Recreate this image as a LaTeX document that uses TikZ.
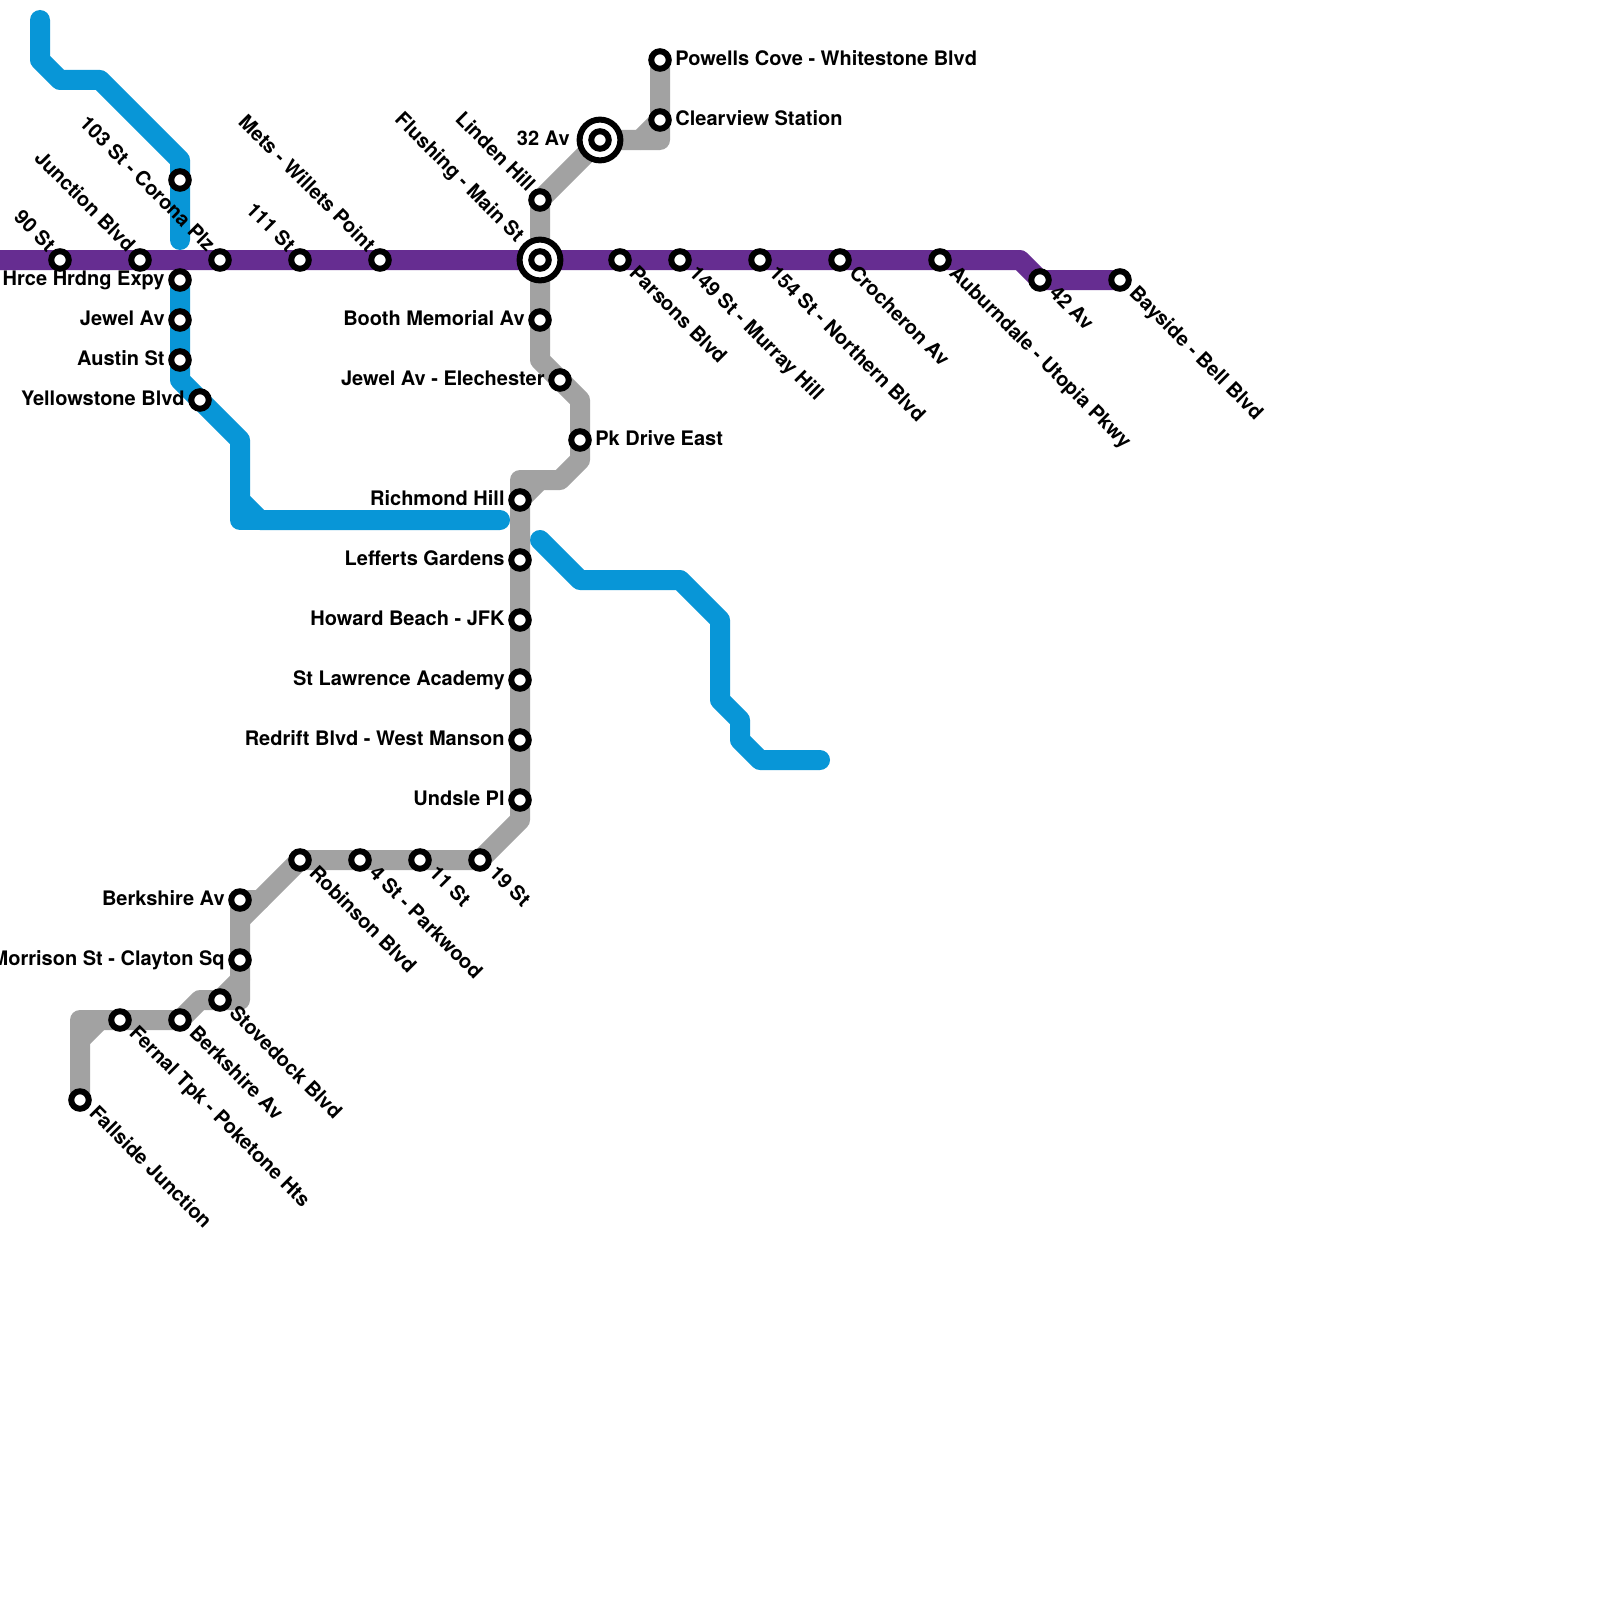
\documentclass[tikz,border=0pt]{standalone}
\usepackage{fontspec}
\setmainfont{TeX Gyre Heros}
\definecolor{lineblue}{HTML}{0896D7}
\definecolor{linepurple}{HTML}{662D91}
\definecolor{linegray}{HTML}{A2A2A2}
\tikzset{
  route/.style={line width=10pt,line cap=round,line join=round},
  stn/.style={circle,draw=black,fill=white,line width=3pt,minimum size=8.75pt,inner sep=0pt,outer sep=0pt},
  hubouter/.style={circle,draw=black,fill=white,line width=3pt,minimum size=20.4pt,inner sep=0pt,outer sep=0pt},
  txt/.style={font=\bfseries\fontsize{10pt}{12pt}\selectfont,inner sep=0pt,text=black},
  labl/.style={txt,anchor=base east},
  labr/.style={txt,anchor=base west},
  labul/.style={txt,anchor=base east,rotate=-45},
  labdr/.style={txt,anchor=base west,rotate=-45},
}
\begin{document}
\begin{tikzpicture}[x=0.5pt,y=-0.5pt]
\useasboundingbox (0,0) rectangle (1600,1600);
\fill[white] (0,0) rectangle (1600,1600);
\clip (0,0) rectangle (1600,1600);
% station positions
\coordinate (s90) at (60,260);
\coordinate (sjun) at (140,260);
\coordinate (s103) at (220,260);
\coordinate (s111) at (300,260);
\coordinate (smet) at (380,260);
\coordinate (sflu) at (540,260);
\coordinate (spar) at (620,260);
\coordinate (s149) at (680,260);
\coordinate (s154) at (760,260);
\coordinate (scro) at (840,260);
\coordinate (saub) at (940,260);
\coordinate (s42) at (1040,280);
\coordinate (sbay) at (1120,280);
\coordinate (snone) at (180,180);
\coordinate (shrc) at (180,280);
\coordinate (sjew) at (180,320);
\coordinate (saus) at (180,360);
\coordinate (syel) at (200,400);
\coordinate (spow) at (660,60);
\coordinate (scle) at (660,120);
\coordinate (s32) at (600,140);
\coordinate (slin) at (540,200);
\coordinate (sboo) at (540,320);
\coordinate (sele) at (560,380);
\coordinate (spk) at (580,440);
\coordinate (sric) at (520,500);
\coordinate (slef) at (520,560);
\coordinate (show) at (520,620);
\coordinate (slaw) at (520,680);
\coordinate (sred) at (520,740);
\coordinate (sund) at (520,800);
\coordinate (s19) at (480,860);
\coordinate (s11) at (420,860);
\coordinate (s4) at (360,860);
\coordinate (srob) at (300,860);
\coordinate (sber) at (240,900);
\coordinate (smor) at (240,960);
\coordinate (ssto) at (220,1000);
\coordinate (sbea) at (180,1020);
\coordinate (sfer) at (120,1020);
\coordinate (sfal) at (80,1100);
% blue routes
\draw[route,lineblue] (40,20) -- (40,60) -- (60,80) -- (100,80) -- (180,160) -- (snone) -- (180,240);
\draw[route,lineblue] (shrc) -- (sjew) -- (saus) -- (180,380) -- (syel) -- (240,440) -- (240,500) -- (260,520) -- (500,520);
\draw[route,lineblue] (240,500) -- (240,520) -- (260,520);
\draw[route,lineblue] (540,540) -- (580,580) -- (680,580) -- (720,620) -- (720,700) -- (740,720) -- (740,740) -- (760,760) -- (820,760);
% gray route
\draw[route,linegray] (spow) -- (scle) -- (660,140) -- (s32) -- (slin) -- (sflu) -- (sboo) -- (540,360) -- (sele) -- (580,400) -- (spk) -- (580,460) -- (560,480) -- (520,480) -- (sric) -- (slef) -- (show) -- (slaw) -- (sred) -- (sund) -- (520,820) -- (s19) -- (s11) -- (s4) -- (srob) -- (240,920) -- (sber);
\draw[route,linegray] (scle) -- (640,140);
\draw[route,linegray] (sric) -- (540,480);
\draw[route,linegray] (sber) -- (260,900);
\draw[route,linegray] (240,920) -- (smor) -- (240,1000) -- (ssto) -- (200,1000) -- (sbea) -- (sfer) -- (80,1020) -- (sfal);
\draw[route,linegray] (240,980) -- (ssto);
\draw[route,linegray] (80,1040) -- (100,1020);
% purple route
\draw[route,linepurple] (-20,260) -- (s90) -- (sjun) -- (s103) -- (s111) -- (smet) -- (sflu) -- (spar) -- (s149) -- (s154) -- (scro) -- (saub) -- (1020,260) -- (s42) -- (sbay);
% stations
\node[stn] (n90) at (s90) {};
\node[stn] (njun) at (sjun) {};
\node[stn] (n103) at (s103) {};
\node[stn] (n111) at (s111) {};
\node[stn] (nmet) at (smet) {};
\node[hubouter] (nfluo) at (sflu) {};
\node[stn] (nflu) at (sflu) {};
\node[stn] (npar) at (spar) {};
\node[stn] (n149) at (s149) {};
\node[stn] (n154) at (s154) {};
\node[stn] (ncro) at (scro) {};
\node[stn] (naub) at (saub) {};
\node[stn] (n42) at (s42) {};
\node[stn] (nbay) at (sbay) {};
\node[stn] (nnone) at (snone) {};
\node[stn] (nhrc) at (shrc) {};
\node[stn] (njew) at (sjew) {};
\node[stn] (naus) at (saus) {};
\node[stn] (nyel) at (syel) {};
\node[stn] (npow) at (spow) {};
\node[stn] (ncle) at (scle) {};
\node[hubouter] (n32o) at (s32) {};
\node[stn] (n32) at (s32) {};
\node[stn] (nlin) at (slin) {};
\node[stn] (nboo) at (sboo) {};
\node[stn] (nele) at (sele) {};
\node[stn] (npk) at (spk) {};
\node[stn] (nric) at (sric) {};
\node[stn] (nlef) at (slef) {};
\node[stn] (nhow) at (show) {};
\node[stn] (nlaw) at (slaw) {};
\node[stn] (nred) at (sred) {};
\node[stn] (nund) at (sund) {};
\node[stn] (n19) at (s19) {};
\node[stn] (n11) at (s11) {};
\node[stn] (n4) at (s4) {};
\node[stn] (nrob) at (srob) {};
\node[stn] (nber) at (sber) {};
\node[stn] (nmor) at (smor) {};
\node[stn] (nsto) at (ssto) {};
\node[stn] (nbea) at (sbea) {};
\node[stn] (nfer) at (sfer) {};
\node[stn] (nfal) at (sfal) {};
% labels: left
\node[labl] (t1) at ([shift={(-15,5.5)}]shrc) {Hrce Hrdng Expy};
\node[labl] (t2) at ([shift={(-15,5.5)}]sjew) {Jewel Av};
\node[labl] (t3) at ([shift={(-15,5.5)}]saus) {Austin St};
\node[labl] (t4) at ([shift={(-15,5.5)}]syel) {Yellowstone Blvd};
\node[labl] (t5) at ([shift={(-15,5.5)}]sboo) {Booth Memorial Av};
\node[labl] (t6) at ([shift={(-15,5.5)}]sele) {Jewel Av - Elechester};
\node[labl] (t7) at ([shift={(-15,5.5)}]sric) {Richmond Hill};
\node[labl] (t8) at ([shift={(-15,5.5)}]slef) {Lefferts Gardens};
\node[labl] (t9) at ([shift={(-15,5.5)}]show) {Howard Beach - JFK};
\node[labl] (t10) at ([shift={(-15,5.5)}]slaw) {St Lawrence Academy};
\node[labl] (t11) at ([shift={(-15,5.5)}]sred) {Redrift Blvd - West Manson};
\node[labl] (t12) at ([shift={(-15,5.5)}]sund) {Undsle Pl};
\node[labl] (t13) at ([shift={(-15,5.5)}]sber) {Berkshire Av};
\node[labl] (t14) at ([shift={(-15,5.5)}]smor) {Morrison St - Clayton Sq};
\node[labl] (t15) at ([shift={(-30,5.5)}]s32) {32 Av};
% labels: right
\node[labr] (t16) at ([shift={(15,5.5)}]spow) {Powells Cove - Whitestone Blvd};
\node[labr] (t17) at ([shift={(15,5.5)}]scle) {Clearview Station};
\node[labr] (t18) at ([shift={(15,5.5)}]spk) {Pk Drive East};
% labels: rotated, upper left
\node[labul] (t19) at ([shift={(-13,-7)}]s90) {90 St};
\node[labul] (t20) at ([shift={(-13,-7)}]sjun) {Junction Blvd};
\node[labul] (t21) at ([shift={(-13,-7)}]s103) {103 St - Corona Plz};
\node[labul] (t22) at ([shift={(-13,-7)}]s111) {111 St};
\node[labul] (t23) at ([shift={(-13,-7)}]smet) {Mets - Willets Point};
\node[labul] (t24) at ([shift={(-24,-17)}]sflu) {Flushing - Main St};
\node[labul] (t25) at ([shift={(-13,-7)}]slin) {Linden Hill};
% labels: rotated, lower right
\node[labdr] (t26) at ([shift={(8,14)}]spar) {Parsons Blvd};
\node[labdr] (t27) at ([shift={(8,14)}]s149) {149 St - Murray Hill};
\node[labdr] (t28) at ([shift={(8,14)}]s154) {154 St - Northern Blvd};
\node[labdr] (t29) at ([shift={(8,14)}]scro) {Crocheron Av};
\node[labdr] (t30) at ([shift={(8,14)}]saub) {Auburndale - Utopia Pkwy};
\node[labdr] (t31) at ([shift={(8,14)}]s42) {42 Av};
\node[labdr] (t32) at ([shift={(8,14)}]sbay) {Bayside - Bell Blvd};
\node[labdr] (t33) at ([shift={(8,14)}]srob) {Robinson Blvd};
\node[labdr] (t34) at ([shift={(8,14)}]s4) {4 St - Parkwood};
\node[labdr] (t35) at ([shift={(8,14)}]s11) {11 St};
\node[labdr] (t36) at ([shift={(8,14)}]s19) {19 St};
\node[labdr] (t37) at ([shift={(8,14)}]ssto) {Stovedock Blvd};
\node[labdr] (t38) at ([shift={(8,14)}]sbea) {Berkshire Av};
\node[labdr] (t39) at ([shift={(8,14)}]sfer) {Fernal Tpk - Poketone Hts};
\node[labdr] (t40) at ([shift={(8,14)}]sfal) {Fallside Junction};
\end{tikzpicture}
\end{document}
